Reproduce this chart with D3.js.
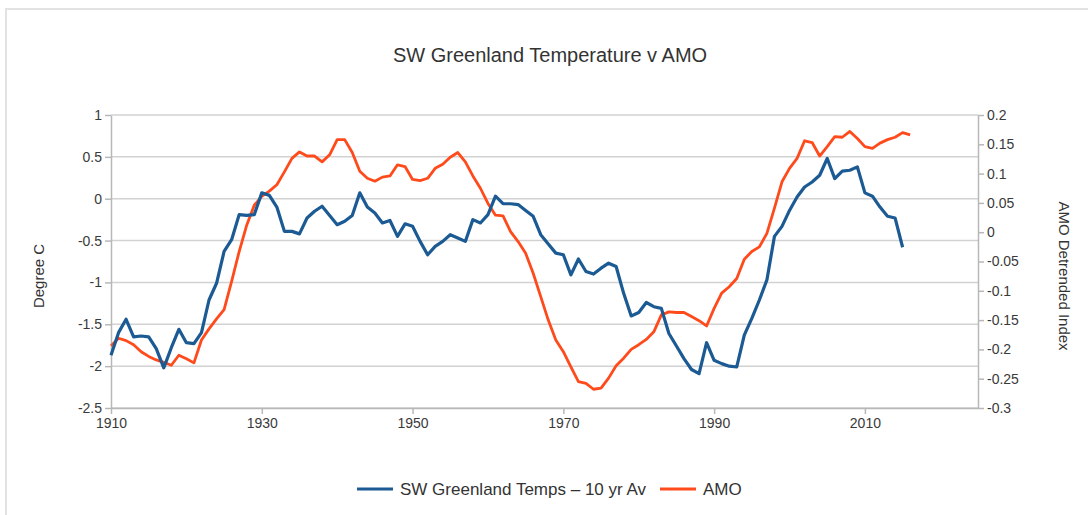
<!doctype html>
<html>

<head>
  <meta charset="utf-8">
  <title>SW Greenland Temperature v AMO</title>
  <style>
    body {
      margin: 0;
      background: #fff;
    }

    svg {
      display: block;
      font-family: "Liberation Sans", Arial, sans-serif;
    }

    .grid line {
      stroke: #d2d2d2;
      stroke-width: 1.5;
    }

    .axis path,
    .axis line {
      stroke: #b8b8b8;
      stroke-width: 1.5;
    }

    .axis text {
      fill: #3a3a3a;
      font-size: 14px;
    }
  </style>
</head>

<body>
  <div id="chart"></div>
  <script src="https://d3js.org/d3.v7.min.js"></script>
  <script>
    // data, one value per year
    const tempStart = 1910;
    const greenlandTemps = [
      -1.87, -1.60, -1.44, -1.65, -1.64, -1.65, -1.79, -2.02, -1.78, -1.56,
      -1.72, -1.73, -1.60, -1.21, -1.01, -0.63, -0.49, -0.19, -0.20, -0.19,
      0.07, 0.04, -0.10, -0.39, -0.39, -0.42, -0.23, -0.15, -0.09, -0.20,
      -0.31, -0.27, -0.20, 0.07, -0.10, -0.17, -0.29, -0.26, -0.45, -0.30,
      -0.33, -0.51, -0.67, -0.57, -0.51, -0.43, -0.47, -0.51, -0.25, -0.29,
      -0.19, 0.03, -0.06, -0.06, -0.07, -0.14, -0.21, -0.43, -0.54, -0.65,
      -0.67, -0.91, -0.72, -0.87, -0.90, -0.83, -0.77, -0.81, -1.13, -1.40,
      -1.36, -1.24, -1.29, -1.31, -1.61, -1.76, -1.91, -2.04, -2.09, -1.72,
      -1.93, -1.97, -2.00, -2.01, -1.63, -1.43, -1.21, -0.97, -0.45, -0.33,
      -0.14, 0.02, 0.14, 0.20, 0.28, 0.48, 0.24, 0.33, 0.34, 0.38,
      0.07, 0.03, -0.10, -0.21, -0.23, -0.58
    ];

    const amoStart = 1910;
    const amoValues = [
      -0.194, -0.181, -0.185, -0.192, -0.204, -0.212, -0.218, -0.222, -0.227, -0.210,
      -0.216, -0.223, -0.184, -0.165, -0.148, -0.132, -0.084, -0.033, 0.012, 0.046,
      0.061, 0.070, 0.081, 0.103, 0.126, 0.137, 0.130, 0.130, 0.120, 0.132,
      0.158, 0.158, 0.136, 0.104, 0.092, 0.087, 0.094, 0.096, 0.115, 0.112,
      0.090, 0.088, 0.092, 0.109, 0.116, 0.128, 0.136, 0.120, 0.096, 0.075,
      0.049, 0.029, 0.028, 0.001, -0.016, -0.036, -0.070, -0.110, -0.150, -0.184,
      -0.204, -0.230, -0.255, -0.258, -0.268, -0.266, -0.249, -0.228, -0.215, -0.200,
      -0.192, -0.183, -0.170, -0.141, -0.136, -0.137, -0.137, -0.144, -0.151, -0.160,
      -0.130, -0.104, -0.093, -0.079, -0.046, -0.033, -0.025, -0.002, 0.041, 0.086,
      0.109, 0.126, 0.156, 0.153, 0.130, 0.146, 0.163, 0.162, 0.172, 0.160,
      0.146, 0.143, 0.152, 0.158, 0.162, 0.170, 0.166
    ];

    const yearTicks = [1910, 1930, 1950, 1970, 1990, 2010];
    const leftTicks = [1, 0.5, 0, -0.5, -1, -1.5, -2, -2.5];
    const rightTicks = [0.2, 0.15, 0.1, 0.05, 0, -0.05, -0.1, -0.15, -0.2, -0.25, -0.3];

    const seriesNames = ['SW Greenland Temps \u2013 10 yr Av', 'AMO'];
    const seriesColors = ['#1c5a94', '#ff4a1c'];

    const width = 1088;
    const height = 515;
    const plot = { left: 111, right: 978, top: 115, bottom: 408 };

    const svg = d3.select('#chart').append('svg')
      .attr('width', width).attr('height', height);

    // outer frame
    svg.append('rect')
      .attr('x', 6).attr('y', 9)
      .attr('width', width + 10).attr('height', height + 10)
      .attr('fill', 'none').attr('stroke', '#e2e2e2').attr('stroke-width', 2);

    const x = d3.scaleLinear().domain([1910, 2025]).range([plot.left, plot.right]);
    const yLeft = d3.scaleLinear().domain([-2.5, 1]).range([plot.bottom, plot.top]);
    const yRight = d3.scaleLinear().domain([-0.3, 0.2]).range([plot.bottom, plot.top]);

    // horizontal grid
    svg.append('g').attr('class', 'grid')
      .selectAll('line').data(leftTicks).join('line')
      .attr('x1', plot.left).attr('x2', plot.right)
      .attr('y1', d => yLeft(d)).attr('y2', d => yLeft(d));

    const fmt = d => (d < 0 ? '-' : '') + String(Math.abs(d));

    svg.append('g').attr('class', 'axis')
      .attr('transform', `translate(${plot.left},0)`)
      .call(d3.axisLeft(yLeft).tickValues(leftTicks).tickFormat(fmt).tickSize(6).tickSizeOuter(0).tickPadding(3));

    svg.append('g').attr('class', 'axis')
      .attr('transform', `translate(${plot.right},0)`)
      .call(d3.axisRight(yRight).tickValues(rightTicks).tickFormat(fmt).tickSize(6).tickSizeOuter(0).tickPadding(3));

    svg.append('g').attr('class', 'axis')
      .attr('transform', `translate(0,${plot.bottom})`)
      .call(d3.axisBottom(x).tickValues(yearTicks).tickFormat(d3.format('d')).tickSize(6).tickSizeOuter(0).tickPadding(4));

    // lines
    const tempData = greenlandTemps.map((v, i) => ({ year: tempStart + i, v }));
    const amoData = amoValues.map((v, i) => ({ year: amoStart + i, v }));

    svg.append('path').datum(amoData)
      .attr('fill', 'none').attr('stroke', seriesColors[1]).attr('stroke-width', 2.8)
      .attr('stroke-linejoin', 'round')
      .attr('d', d3.line().x(d => x(d.year)).y(d => yRight(d.v)));

    svg.append('path').datum(tempData)
      .attr('fill', 'none').attr('stroke', seriesColors[0]).attr('stroke-width', 3.2)
      .attr('stroke-linejoin', 'round')
      .attr('d', d3.line().x(d => x(d.year)).y(d => yLeft(d.v)));

    // title and axis titles
    svg.append('text')
      .attr('x', 550).attr('y', 62)
      .attr('text-anchor', 'middle')
      .attr('font-size', 20).attr('fill', '#333')
      .text('SW Greenland Temperature v AMO');

    svg.append('text')
      .attr('transform', 'translate(44,276) rotate(-90)')
      .attr('text-anchor', 'middle')
      .attr('font-size', 15).attr('fill', '#333')
      .text('Degree C');

    svg.append('text')
      .attr('transform', 'translate(1059,276) rotate(90)')
      .attr('text-anchor', 'middle')
      .attr('font-size', 15).attr('fill', '#333')
      .text('AMO Detrended Index');

    // legend
    const legendItems = [
      { name: seriesNames[0], color: seriesColors[0], x: 357 },
      { name: seriesNames[1], color: seriesColors[1], x: 660 }
    ];
    const legend = svg.append('g');
    legendItems.forEach(item => {
      legend.append('line')
        .attr('x1', item.x).attr('x2', item.x + 36)
        .attr('y1', 489).attr('y2', 489)
        .attr('stroke', item.color).attr('stroke-width', 2.8);
      legend.append('text')
        .attr('x', item.x + 43).attr('y', 495)
        .attr('font-size', 17).attr('fill', '#333')
        .text(item.name);
    });
  </script>
</body>

</html>
